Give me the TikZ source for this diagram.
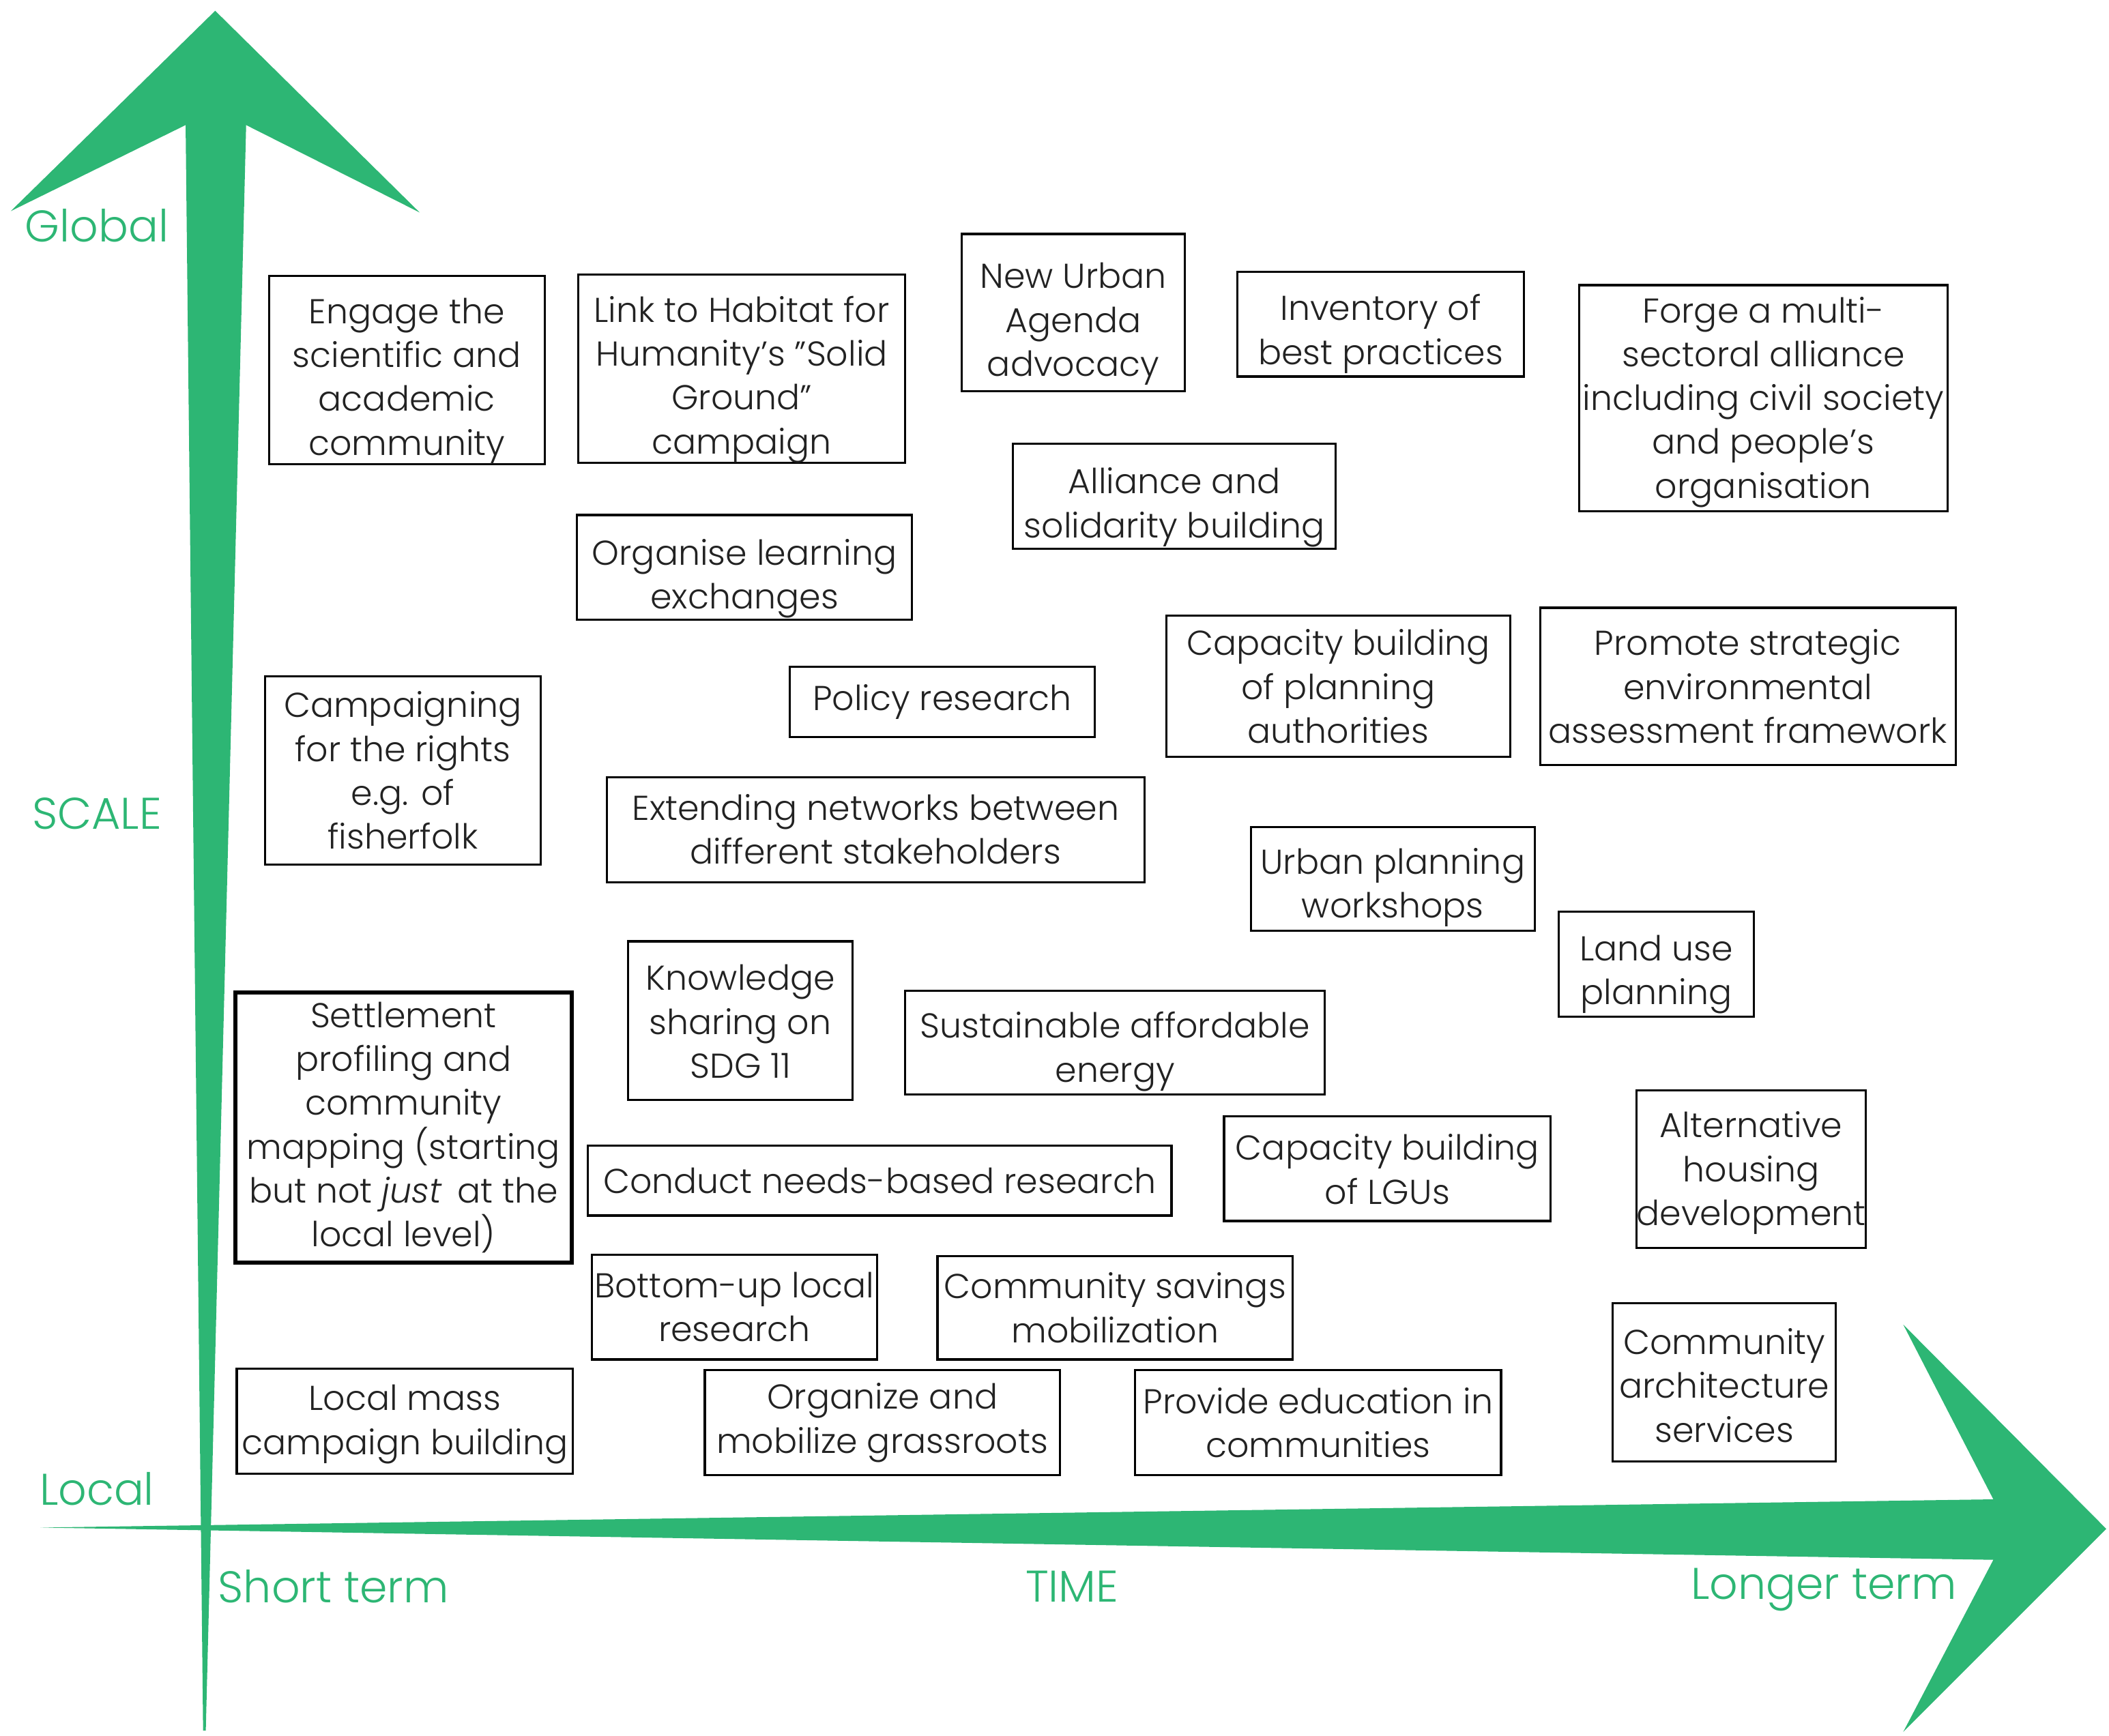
\documentclass[tikz,border=0pt]{standalone}
\usepackage{fontspec}
\setmainfont{Poppins}[UprightFont=* Light, ItalicFont=* Light Italic]
\usetikzlibrary{positioning}
\definecolor{axisgreen}{HTML}{2DB674}
\definecolor{inkgray}{HTML}{222222}
% text block that sits lower in its box by #1 pt
\newcommand{\lowered}[2]{\raisebox{-#1pt}[\height][\depth]{\begin{tabular}{@{}c@{}}#2\end{tabular}}}
\tikzset{
	x=0.01971cm, y=-0.01971cm, % one unit is one pixel of the sketch, y runs down
	wh/.style 2 args={minimum width=#1*0.5608pt, minimum height=#2*0.5608pt}, % box size in sketch pixels
	box/.style={draw=black, line width=0.9pt, align=center, inner sep=0pt, text=inkgray, font=\fontsize{14.4}{18.3}\selectfont}, % the activity boxes
	boldbox/.style={box, line width=1.8pt}, % the one box with the heavy frame
	axislabel/.style={text=axisgreen, font=\fontsize{18.5}{22}\selectfont}, % green axis texts
}
\begin{document}
\begin{tikzpicture}
	\useasboundingbox (0,0) rectangle (1568,1290.7);
	% the two axes
	\fill[axisgreen] (160,8) -- (312,158) -- (183,93) -- (153,1287) -- (151,1287) -- (138,93) -- (8,157) -- cycle;
	\fill[axisgreen] (30,1136) -- (1482,1115) -- (1415,985) -- (1566,1137) -- (1415,1288) -- (1482,1160) -- cycle;
	\node[axislabel] (global) at (72,168) {Global};
	\node[axislabel] (scale) at (72,605) {SCALE};
	\node[axislabel] (local) at (72,1107) {Local};
	\node[axislabel] (short) at (248,1180) {Short term};
	\node[axislabel] (time) at (797,1180) {TIME};
	\node[axislabel] (longer) at (1356,1182) {Longer term};
	% activities
	\node[box, wh={205}{140}] (engage) at (302.5,275) {\lowered{4.5}{Engage the\\scientific and\\academic\\community}};
	\node[box, wh={243}{140}] (habitat) at (551.5,274) {\lowered{4.5}{Link to Habitat for\\Humanity's "Solid\\Ground"\\campaign}};
	\node[box, wh={166}{117}] (nua) at (798,232.5) {\lowered{4.5}{New Urban\\Agenda\\advocacy}};
	\node[box, wh={213}{78}] (inventory) at (1026.5,241) {\lowered{4}{Inventory of\\best practices}};
	\node[box, wh={274}{168}] (forge) at (1311,296) {\lowered{1.5}{Forge a multi-\\sectoral alliance\\including civil society\\and people's\\organisation}};
	\node[box, wh={240}{78}] (alliance) at (873,369) {\lowered{4.5}{Alliance and\\solidarity building}};
	\node[box, wh={249}{78}] (learning) at (553.5,422) {\lowered{4.5}{Organise learning\\exchanges}};
	\node[box, wh={205}{140}] (rights) at (299.5,573) {Campaigning\\for the rights\\e.g. of\\fisherfolk};
	\node[box, wh={227}{52}] (policy) at (700.5,522) {Policy research};
	\node[box, wh={256}{105}] (capplan) at (995,510.5) {Capacity building\\of planning\\authorities};
	\node[box, wh={309}{117}] (sea) at (1299.5,510.5) {Promote strategic\\environmental\\assessment framework};
	\node[box, wh={400}{78}] (networks) at (651,617) {\lowered{1.5}{Extending networks between\\different stakeholders}};
	\node[box, wh={211}{77}] (workshops) at (1035.5,653.5) {\lowered{3.5}{Urban planning\\workshops}};
	\node[box, wh={145}{78}] (landuse) at (1231.5,717) {\lowered{4}{Land use\\planning}};
	\node[box, wh={167}{118}] (sdg) at (550.5,759) {\lowered{2}{Knowledge\\sharing on\\SDG 11}};
	\node[box, wh={312}{77}] (energy) at (829,775.5) {\lowered{3.5}{Sustainable affordable\\energy}};
	\node[boldbox, wh={250}{201}] (settlement) at (300,838.5) {Settlement\\profiling and\\community\\mapping (starting\\but not \textit{just}\, at the\\local level)};
	\node[box, wh={434}{52}] (needs) at (654,878) {Conduct needs-based research};
	\node[box, wh={243}{78}] (lgu) at (1031.5,869) {\lowered{2}{Capacity building\\of LGUs}};
	\node[box, wh={166}{117}] (housing) at (1302,869.5) {\lowered{1.5}{Alternative\\housing\\development}};
	\node[box, wh={212}{78}] (bottomup) at (546,972) {Bottom-up local\\research};
	\node[box, wh={264}{77}] (savings) at (829,972.5) {Community savings\\mobilization};
	\node[box, wh={166}{118}] (architecture) at (1282,1028) {\lowered{3}{Community\\architecture\\services}};
	\node[box, wh={250}{78}] (masscampaign) at (301,1057) {\lowered{1}{Local mass\\campaign building}};
	\node[box, wh={264}{78}] (grassroots) at (656,1058) {Organize and\\mobilize grassroots};
	\node[box, wh={272}{78}] (education) at (980,1058) {Provide education in\\communities};
\end{tikzpicture}
\end{document}
